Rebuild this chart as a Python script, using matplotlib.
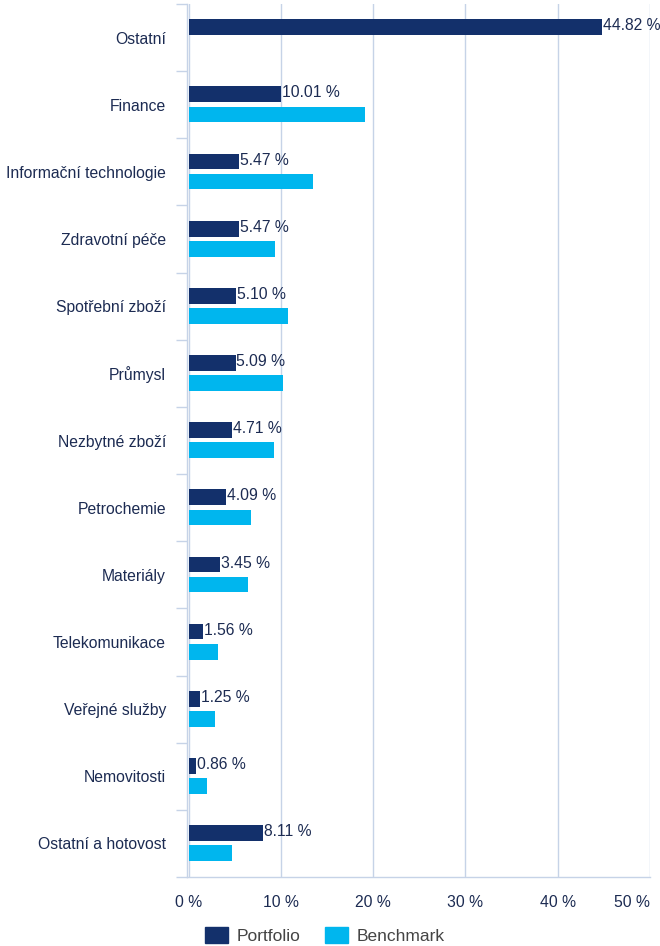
import numpy as np
import matplotlib.pyplot as plt
from matplotlib.patches import Patch

plt.rcParams['font.family'] = ['Liberation Sans', 'DejaVu Sans']

# sector weights in %
sectors = ['Ostatní', 'Finance', 'Informační technologie', 'Zdravotní péče',
           'Spotřební zboží', 'Průmysl', 'Nezbytné zboží', 'Petrochemie',
           'Materiály', 'Telekomunikace', 'Veřejné služby', 'Nemovitosti',
           'Ostatní a hotovost']
portfolio = [44.82, 10.01, 5.47, 5.47, 5.10, 5.09, 4.71, 4.09, 3.45, 1.56, 1.25, 0.86, 8.11]
benchmark = [0.0, 19.1, 13.45, 9.4, 10.8, 10.2, 9.3, 6.8, 6.45, 3.15, 2.85, 2.05, 4.7]
xticks = [0, 10, 20, 30, 40, 50]

navy = '#13306b'
cyan = '#00b6ee'
grid_col = '#c6d3e7'
text_col = '#1c2b52'
fs = 11.3

fig = plt.figure(figsize=(6.6, 9.46), dpi=100)
ax = fig.add_axes([0.2829, 0.0729, 0.7019, 0.9229])

y = np.arange(len(sectors))
h = 0.235
ax.barh(y - 0.155, portfolio, height=h, color=navy, label='Portfolio', zorder=3)
ax.barh(y + 0.145, benchmark, height=h, color=cyan, label='Benchmark', zorder=3)

# value labels next to portfolio bars
for yi, v in zip(y, portfolio):
    ax.text(v + 0.1, yi - 0.175, f'{v:.2f} %', va='center', ha='left',
            fontsize=fs, color=text_col, zorder=4)

ax.set_xlim(-0.2, 50)
ax.set_ylim(len(sectors) - 0.5, -0.5)

ax.set_xticks(xticks)
ax.set_xticklabels([f'{t} %' for t in xticks])
ax.get_xticklabels()[-1].set_ha('right')
ax.set_yticks(y)
ax.set_yticklabels(sectors)
ax.set_yticks(np.arange(len(sectors) + 1) - 0.5, minor=True)

ax.tick_params(axis='y', which='major', length=0, pad=15, labelsize=fs, labelcolor=text_col)
ax.tick_params(axis='y', which='minor', length=8, width=1, color=grid_col)
ax.tick_params(axis='x', length=0, pad=13, labelsize=fs, labelcolor=text_col)

ax.grid(axis='x', color=grid_col, lw=1, zorder=0)
ax.set_axisbelow(True)
for s in ['top', 'right']:
    ax.spines[s].set_visible(False)
for s in ['left', 'bottom']:
    ax.spines[s].set_color(grid_col)
    ax.spines[s].set_linewidth(1)

handles = [Patch(color=navy, label='Portfolio'), Patch(color=cyan, label='Benchmark')]
leg = fig.legend(handles=handles, loc='lower center', bbox_to_anchor=(0.492, -0.014),
                 ncol=2, frameon=False, fontsize=12.5, handlelength=1.32, handleheight=1.03,
                 handletextpad=0.5, columnspacing=1.4)
for t in leg.get_texts():
    t.set_color('#444444')

fig.savefig('out.png', dpi=100)
